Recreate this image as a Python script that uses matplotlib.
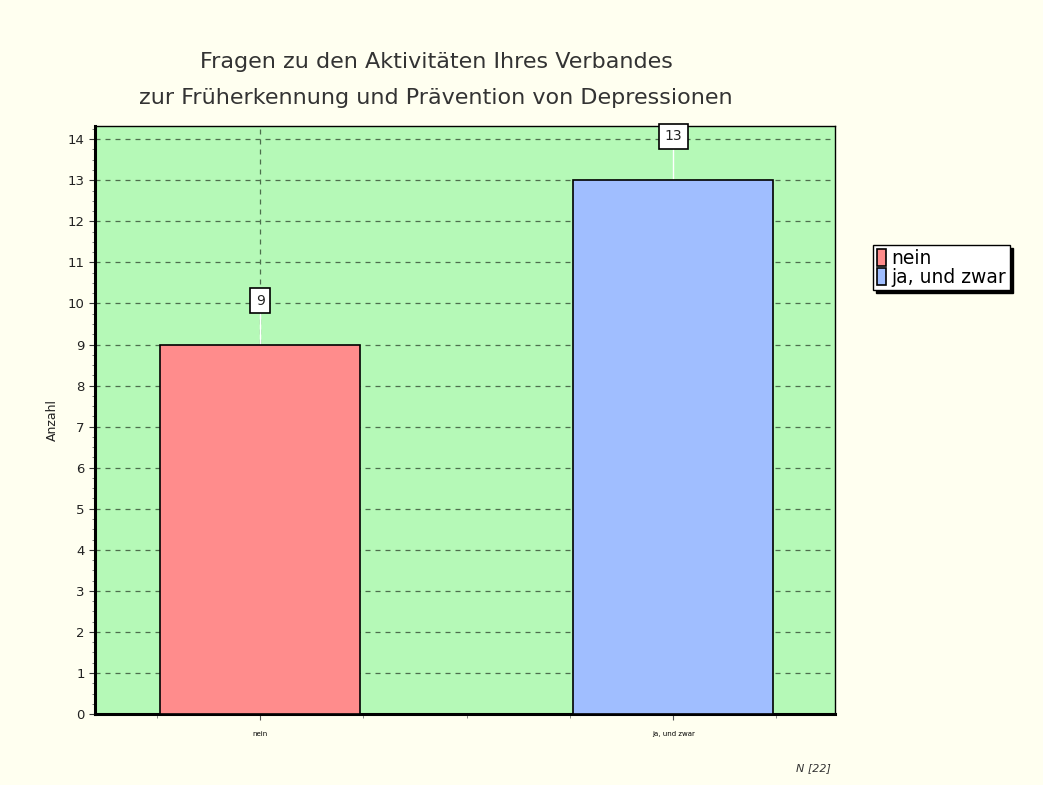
import numpy as np
import matplotlib.pyplot as plt
from matplotlib.ticker import MultipleLocator

# chart data
categories = ['nein', 'ja, und zwar']
counts = [9, 13]
bar_colors = ['#ff8c8c', '#a0beff']
title = 'Fragen zu den Aktivitäten Ihres Verbandes\nzur Früherkennung und Prävention von Depressionen'
n_total = 22

bg = '#fffff0'
plot_bg = '#b5f9b7'

fig = plt.figure(figsize=(10.43, 7.85), dpi=100, facecolor=bg)
ax = fig.add_axes([0.0911, 0.0904, 0.7095, 0.749], facecolor=plot_bg)

x = np.arange(len(categories))
bars = ax.bar(x, counts, width=0.484, color=bar_colors, edgecolor='black',
              linewidth=1.2, zorder=3, label=categories)

ax.set_xlim(-0.40, 1.392)
ax.set_ylim(0, 14.32)
ax.yaxis.set_major_locator(MultipleLocator(1))
ax.yaxis.set_minor_locator(MultipleLocator(0.25))
ax.set_xticks(x)
ax.set_xticklabels(categories, fontsize=5)
ax.set_xticks([-0.25, 0.25, 0.5, 0.75, 1.25], minor=True)
ax.tick_params(axis='x', length=4, color='#555555', pad=8)
ax.tick_params(axis='x', which='minor', length=3, color='#777777')
ax.tick_params(axis='y', labelsize=9.5, length=4, color='#333333', labelcolor='#222222')
ax.tick_params(axis='y', which='minor', length=2, color='#666666')

# dashed grid
ax.grid(axis='y', linestyle=(0, (4, 4)), color='#4d6e4d', linewidth=0.9, zorder=1)
ax.axvline(x[0], linestyle=(0, (4, 4)), color='#4d6e4d', linewidth=0.9, zorder=1)

for sp in ['left', 'bottom']:
    ax.spines[sp].set_linewidth(2.2)
for sp in ['top', 'right']:
    ax.spines[sp].set_linewidth(1.0)

ax.set_ylabel('Anzahl', fontsize=9, labelpad=6, color='#222222')

# value labels with leader lines
for xi, v in zip(x, counts):
    ly = v + 1.07
    ax.plot([xi, xi], [v, ly - 0.25], color='white', linewidth=1.0, zorder=2)
    ax.text(xi, ly, str(v), ha='center', va='center', fontsize=10, zorder=5,
            color='#222222',
            bbox=dict(boxstyle='square,pad=0.4', facecolor='white',
                      edgecolor='black', linewidth=1.2), clip_on=False)

fig.text(0.418, 0.898, title, ha='center', va='center', fontsize=16,
         color='#333333', linespacing=1.95)
fig.text(0.797, 0.022, 'N [%d]' % n_total, ha='right',
         va='center', fontsize=8, style='italic', color='#333333')

leg = fig.legend(handles=bars, labels=categories, loc='upper left',
                 bbox_to_anchor=(0.837, 0.688), fontsize=13.5, frameon=True,
                 fancybox=False, shadow={'color': 'black', 'alpha': 1.0},
                 edgecolor='black',
                 handlelength=0.5, handleheight=1.0, handletextpad=0.3,
                 borderpad=0.2, labelspacing=0.0, borderaxespad=0)
leg.get_frame().set_linewidth(1.0)

fig.savefig('out.png', dpi=100, facecolor=bg)
